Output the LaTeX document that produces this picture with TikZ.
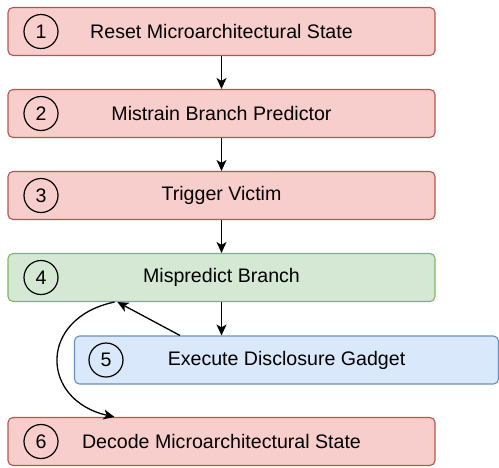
\documentclass[tikz,border=0pt]{standalone}
\usepackage{fontspec}
\setmainfont{Liberation Sans}
\usetikzlibrary{arrows.meta,calc}
\definecolor{rfill}{HTML}{F8CECC}\definecolor{rdraw}{HTML}{B85450}
\definecolor{gfill}{HTML}{D5E8D4}\definecolor{gdraw}{HTML}{82B366}
\definecolor{bfill}{HTML}{DAE8FC}\definecolor{bdraw}{HTML}{6C8EBF}
\begin{document}
\begin{tikzpicture}[x=1pt,y=-1pt,
  box/.style={rounded corners=5pt,line width=1.1pt,minimum height=48pt,inner sep=0pt,font=\fontsize{19.6}{22}\selectfont},
  redbox/.style={box,fill=rfill,draw=rdraw,minimum width=427pt},
  greenbox/.style={box,fill=gfill,draw=gdraw,minimum width=427pt},
  bluebox/.style={box,fill=bfill,draw=bdraw,minimum width=424pt},
  num/.style={circle,draw,line width=1.2pt,minimum size=34pt,inner sep=0pt,font=\fontsize{19.6}{22}\selectfont},
  arr/.style={-{Stealth[length=11pt,width=10pt,inset=3pt]},line width=1.3pt}]
\useasboundingbox (0,0) rectangle (499,467);
\node[redbox] (b1) at (221.5,31.5) {Reset Microarchitectural State};
\node[redbox] (b2) at (221.5,113.5) {Mistrain Branch Predictor};
\node[redbox] (b3) at (221.5,195.5) {Trigger Victim};
\node[greenbox] (b4) at (221.5,277.5) {Mispredict Branch};
\node[bluebox] (b5) at (286.5,360) {Execute Disclosure Gadget};
\node[redbox] (b6) at (221.5,441.5) {Decode Microarchitectural State};
\node[num] (n1) at (41,31.5) {1};
\node[num] (n2) at (41,113.5) {2};
\node[num] (n3) at (41,195.5) {3};
\node[num] (n4) at (41,277.5) {4};
\node[num] (n5) at (106,360) {5};
\node[num] (n6) at (41,441.5) {6};
\draw[arr] (b1.south) -- (b2.north);
\draw[arr] (b2.south) -- (b3.north);
\draw[arr] (b3.south) -- (b4.north);
\draw[arr] (b4.south) -- (b4.south|-b5.north);
\coordinate (s5) at ($(b5.north west)+(106,0)$);
\coordinate (t4) at ($(b4.south west)+(110,0)$);
\coordinate (c4) at ($(b4.south west)+(107,0)$);
\coordinate (c6) at ($(b6.north west)+(107,0)$);
\draw[arr] (s5) -- (t4);
\draw[arr] (c4) .. controls (38,318) and (40,400) .. (c6);
\end{tikzpicture}
\end{document}
